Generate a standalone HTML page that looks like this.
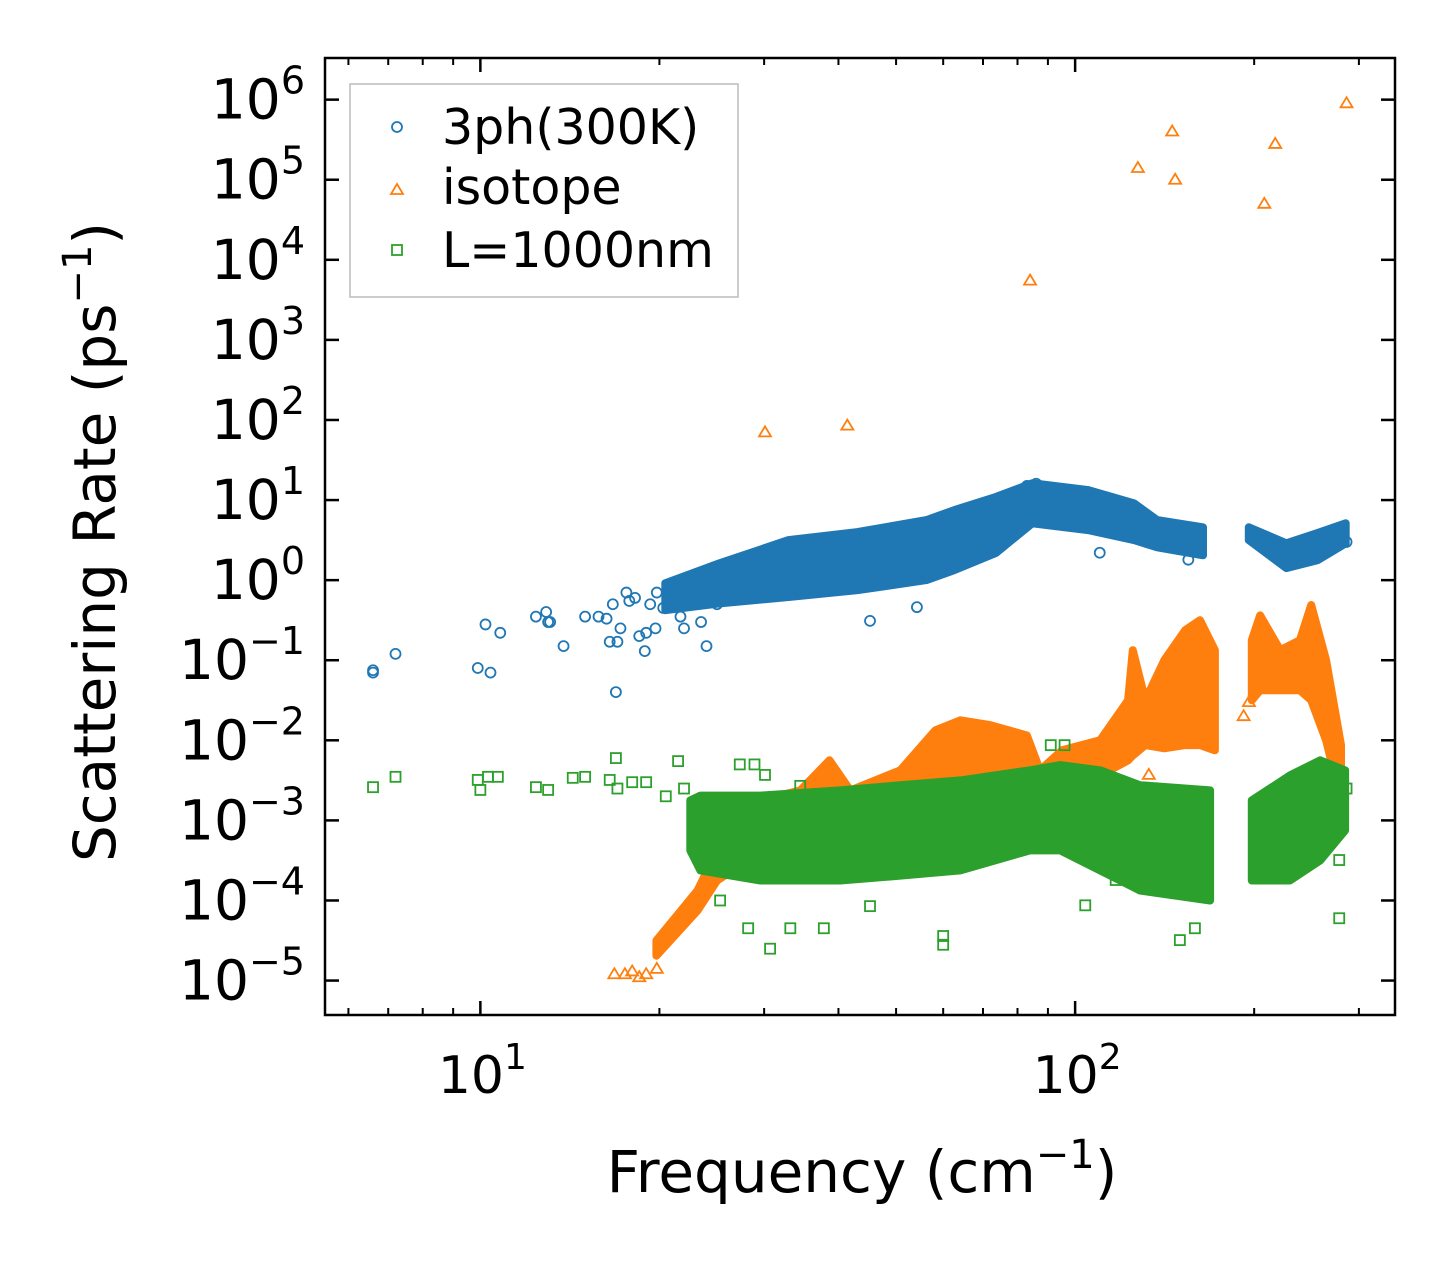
<!DOCTYPE html>
<html><head><meta charset="utf-8"><style>
body{margin:0;background:#fff;}
svg{display:block;font-family:"DejaVu Sans","Liberation Sans",sans-serif;}
</style></head><body>
<svg id="chart" width="1455" height="1265" viewBox="0 0 1455 1265" xmlns="http://www.w3.org/2000/svg">
<rect width="1455" height="1265" fill="#fff"/>
<g id="marks"></g>
<g id="axes"></g>
<rect x="325" y="58" width="1070" height="957" fill="none" stroke="#000" stroke-width="2.5"/>
<g>
<rect x="350" y="84" width="388" height="213" fill="#fff" fill-opacity="0.8" stroke="#bbb" stroke-width="1.5"/>
<circle cx="397" cy="127" r="5" fill="none" stroke="#1f77b4" stroke-width="1.8"/>
<text x="442" y="144" font-size="49">3ph(300K)</text>
<path d="M397,184 L403,194 L391,194 Z" fill="none" stroke="#ff7f0e" stroke-width="1.8"/>
<text x="442" y="204" font-size="49">isotope</text>
<rect x="392" y="245" width="10" height="10" fill="none" stroke="#2ca02c" stroke-width="1.8"/>
<text x="442" y="267" font-size="49">L=1000nm</text>
</g>
<text x="862" y="1192" font-size="58" text-anchor="middle">Frequency (cm<tspan font-size="40" dy="-24">−1</tspan><tspan dy="24">)</tspan></text>
<text transform="translate(115,542) rotate(-90)" font-size="58" text-anchor="middle">Scattering Rate (ps<tspan font-size="40" dy="-24">−1</tspan><tspan dy="24">)</tspan></text>
</svg>
<script>
const NS="http://www.w3.org/2000/svg";
const X0=325,X1=1395,Y0=58,Y1=1015;
const xmin=Math.log10(5.48),xmax=Math.log10(345);
const ymax=6.52,ymin=-5.43;
function lx(l){return X0+(l-xmin)/(xmax-xmin)*(X1-X0);}
function ly(l){return Y1-(l-ymin)/(ymax-ymin)*(Y1-Y0);}
function sx(v){return lx(Math.log10(v));}
function sy(v){return ly(Math.log10(v));}

const yTickExps=[6,5,4,3,2,1,0,-1,-2,-3,-4,-5];
const xTickExps=[1,2];
const xMinorTicks=[6,7,8,9,20,30,40,50,60,70,80,90,200,300];

// 3ph sparse points (cm^-1, ps^-1)
const ph3Freq=[6.6,6.6,7.2,9.9,10.2,10.4,10.8,12.4,12.9,13,13.1,13.8,15,15.8,16.3,16.5,16.7,16.9,17,17.2,17.6,17.8,18.2,18.5,18.9,19,19.3,19.7,19.8,20.3,20.8,21.2,21.7,22,22.4,23,23.5,24,25,26,45.2,54.2,110,155,286,83,86];
const ph3Rate=[0.07,0.075,0.12,0.08,0.28,0.07,0.22,0.35,0.4,0.3,0.3,0.15,0.35,0.35,0.33,0.17,0.5,0.04,0.17,0.25,0.7,0.55,0.6,0.2,0.13,0.22,0.5,0.25,0.7,0.45,0.75,0.55,0.35,0.25,0.7,0.9,0.3,0.15,0.5,0.6,0.31,0.46,2.2,1.8,3,15,16];
// 3ph dense band (log10 values)
const ph3BandLogFreq=[[1.311,1.402,1.518,1.634,1.750,1.797,1.867,1.928,2.022,2.099,2.138,2.215],[2.292,2.355,2.408,2.455]];
const ph3BandLogLow=[[-0.375,-0.29,-0.21,-0.125,0,0.125,0.34,0.71,0.625,0.5,0.41,0.31],[0.5,0.15,0.25,0.46]];
const ph3BandLogHigh=[[-0.04,0.21,0.5,0.6,0.75,0.875,1.04,1.21,1.125,0.96,0.75,0.66],[0.66,0.46,0.59,0.71]];

// isotope sparse points
const isoFreq=[30.1,41.4,84,127.5,145.6,147.3,208,217,286,16.8,17.5,18,18.5,19,19.8,133,192,196];
const isoRate=[70,85,5500,1.4e5,4e5,1e5,5e4,2.8e5,9e5,1.2e-5,1.2e-5,1.3e-5,1.1e-5,1.2e-5,1.4e-5,3.7e-3,0.02,0.03];
const isoBandLogFreq=[[1.296,1.365,1.398,1.437,1.471,1.538,1.587,1.622,1.706,1.765,1.807,1.857,1.919,1.941,1.978,2.042,2.089,2.097,2.118,2.150,2.185,2.210,2.235],[2.297,2.311,2.345,2.378,2.397,2.422,2.447]];
const isoBandLogHigh=[[-4.5,-3.875,-3.375,-2.875,-2.75,-2.625,-2.25,-2.625,-2.375,-1.875,-1.75,-1.81,-1.94,-2.375,-2.125,-2.0,-1.5,-0.875,-1.5,-1.0,-0.625,-0.5,-0.875],[-0.75,-0.44,-0.875,-0.75,-0.31,-1.0,-2.06]];
const isoBandLogLow=[[-4.69,-4.125,-3.75,-3.56,-3.44,-3.25,-3.19,-3.19,-3.125,-3.06,-3.0,-2.94,-2.81,-2.75,-2.625,-2.44,-2.25,-2.19,-2.06,-2.1,-2.06,-2.06,-2.125],[-1.5,-1.375,-1.375,-1.375,-1.5,-2.0,-2.75]];

// boundary (L=1000nm) sparse points
const bFreq=[6.6,7.2,9.9,10,10.3,10.7,12.4,13,14.3,15,16.5,16.9,17,18,19,20.5,21.5,22,28.2,30.7,33.2,37.8,45.2,60,60,150,159,278,286,278,96,91,25.3,27.1,29.9,30.1,27.3,28.9,34.5,104,117];
const bRate=[2.6e-3,3.5e-3,3.2e-3,2.4e-3,3.5e-3,3.5e-3,2.6e-3,2.4e-3,3.4e-3,3.5e-3,3.2e-3,6e-3,2.5e-3,3e-3,3e-3,2e-3,5.5e-3,2.5e-3,4.5e-5,2.5e-5,4.5e-5,4.5e-5,8.5e-5,2.8e-5,3.6e-5,3.2e-5,4.5e-5,6e-5,2.5e-3,3.2e-4,8.7e-3,8.7e-3,1e-4,3e-4,3.2e-4,3.7e-3,5e-3,5e-3,2.7e-3,8.7e-5,1.8e-4];
const bBandLogFreq=[[1.353,1.370,1.471,1.605,1.706,1.807,1.924,1.975,2.042,2.109,2.227],[2.297,2.361,2.412,2.454]];
const bBandLogHigh=[[-2.75,-2.69,-2.69,-2.625,-2.56,-2.5,-2.375,-2.31,-2.375,-2.56,-2.625],[-2.75,-2.44,-2.25,-2.375]];
const bBandLogLow=[[-3.375,-3.625,-3.75,-3.75,-3.69,-3.625,-3.375,-3.375,-3.625,-3.875,-4.0],[-3.75,-3.75,-3.5,-3.125]];

const marks=document.getElementById('marks');
const axes=document.getElementById('axes');
function mk(tag,attrs,parent){const e=document.createElementNS(NS,tag);for(const k in attrs)e.setAttribute(k,attrs[k]);parent.appendChild(e);return e;}

function band(fs,lo,hi,color,name){
  for(let s=0;s<fs.length;s++){
    let pts=[];
    for(let i=0;i<fs[s].length;i++)pts.push(lx(fs[s][i]).toFixed(1)+','+ly(hi[s][i]).toFixed(1));
    for(let i=fs[s].length-1;i>=0;i--)pts.push(lx(fs[s][i]).toFixed(1)+','+ly(lo[s][i]).toFixed(1));
    const p=mk('polygon',{points:pts.join(' '),fill:color,stroke:color,'stroke-width':8,'stroke-linejoin':'round'},marks);
    
    
  }
}
function points(fr,rt,color,shape,name){
  for(let i=0;i<fr.length;i++){
    const x=sx(fr[i]),y=sy(rt[i]);let e;
    if(shape==='c')e=mk('circle',{cx:x,cy:y,r:5,fill:'none',stroke:color,'stroke-width':1.8},marks);
    else if(shape==='t')e=mk('path',{d:`M${x},${y-6} L${x+6},${y+4} L${x-6},${y+4} Z`,fill:'none',stroke:color,'stroke-width':1.8},marks);
    else e=mk('rect',{x:x-5,y:y-5,width:10,height:10,fill:'none',stroke:color,'stroke-width':1.8},marks);
    
    
  }
}
band(ph3BandLogFreq,ph3BandLogLow,ph3BandLogHigh,'#1f77b4','3ph');
points(ph3Freq,ph3Rate,'#1f77b4','c','3ph');
band(isoBandLogFreq,isoBandLogLow,isoBandLogHigh,'#ff7f0e','isotope');
points(isoFreq,isoRate,'#ff7f0e','t','isotope');
band(bBandLogFreq,bBandLogLow,bBandLogHigh,'#2ca02c','boundary');
points(bFreq,bRate,'#2ca02c','s','boundary');

yTickExps.forEach(e=>{
  const y=ly(e);
  let t=mk('line',{x1:X0,x2:X0+14,y1:y,y2:y,stroke:'#000','stroke-width':2.5},axes);
  
  
  t=mk('line',{x1:X1,x2:X1-14,y1:y,y2:y,stroke:'#000','stroke-width':2.5},axes);
  
  
  const tx=mk('text',{x:305,y:y+19,'font-size':55,'text-anchor':'end'},axes);
  
  
  const lab=e<0?'−'+(-e):String(e);
  tx.innerHTML='10<tspan font-size="38" dy="-25">'+lab+'</tspan>';
});
xTickExps.forEach(e=>{
  const x=lx(e);
  let t=mk('line',{x1:x,x2:x,y1:Y1,y2:Y1-14,stroke:'#000','stroke-width':2.5},axes);
  
  
  t=mk('line',{x1:x,x2:x,y1:Y0,y2:Y0+14,stroke:'#000','stroke-width':2.5},axes);
  
  
  const tx=mk('text',{x:x+2,y:1093,'font-size':52,'text-anchor':'middle'},axes);
  
  
  tx.innerHTML='10<tspan font-size="36" dy="-24">'+e+'</tspan>';
});
xMinorTicks.forEach(v=>{
  const x=sx(v);
  let t=mk('line',{x1:x,x2:x,y1:Y1,y2:Y1-7,stroke:'#000','stroke-width':2},axes);
  
  
  t=mk('line',{x1:x,x2:x,y1:Y0,y2:Y0+7,stroke:'#000','stroke-width':2},axes);
  
  
});
</script>
</body></html>
